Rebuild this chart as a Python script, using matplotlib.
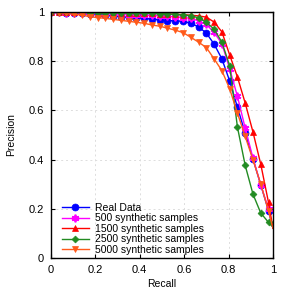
import matplotlib
matplotlib.use("Agg")
import matplotlib.pyplot as plt

plt.rcParams['font.family'] = ['Liberation Sans', 'DejaVu Sans']
plt.rcParams['font.size'] = 8

# recall grid + end point at recall 1
recall = [0.0, 0.035, 0.07, 0.105, 0.14, 0.175, 0.21, 0.245, 0.28, 0.315,
          0.35, 0.385, 0.42, 0.455, 0.49, 0.525, 0.56, 0.595, 0.63, 0.665,
          0.70, 0.735, 0.77, 0.805, 0.84, 0.875, 0.91, 0.945, 0.98, 1.0]

real_data = [1.0, 0.999, 0.998, 0.997, 0.995, 0.993, 0.991, 0.988, 0.985, 0.982,
             0.979, 0.977, 0.975, 0.972, 0.969, 0.966, 0.965, 0.963, 0.955, 0.94,
             0.915, 0.87, 0.81, 0.72, 0.613, 0.507, 0.402, 0.297, 0.191, 0.12]
synth_500 = [1.0, 0.999, 0.998, 0.997, 0.996, 0.995, 0.994, 0.993, 0.992, 0.991,
             0.99, 0.989, 0.988, 0.987, 0.985, 0.983, 0.981, 0.978, 0.975, 0.965,
             0.95, 0.918, 0.872, 0.77, 0.657, 0.528, 0.406, 0.297, 0.198, 0.12]
synth_1500 = [1.0, 1.0, 1.0, 0.999, 0.999, 0.999, 0.998, 0.998, 0.998, 0.997,
              0.997, 0.996, 0.996, 0.995, 0.994, 0.993, 0.992, 0.99, 0.988, 0.985,
              0.98, 0.96, 0.92, 0.826, 0.736, 0.63, 0.512, 0.381, 0.225, 0.12]
synth_2500 = [1.0, 1.0, 0.999, 0.999, 0.999, 0.998, 0.998, 0.998, 0.997, 0.997,
              0.996, 0.996, 0.995, 0.995, 0.994, 0.993, 0.991, 0.988, 0.986, 0.977,
              0.959, 0.931, 0.878, 0.782, 0.532, 0.376, 0.259, 0.182, 0.144, 0.125]
synth_5000 = [1.0, 0.998, 0.995, 0.992, 0.988, 0.982, 0.978, 0.975, 0.971, 0.967,
              0.963, 0.959, 0.955, 0.948, 0.943, 0.935, 0.927, 0.917, 0.898, 0.878,
              0.856, 0.81, 0.762, 0.688, 0.589, 0.494, 0.399, 0.30, 0.19, 0.12]

labels = ["Real Data", "500 synthetic samples", "1500 synthetic samples",
          "2500 synthetic samples", "5000 synthetic samples"]
ticks = [0, 0.2, 0.4, 0.6, 0.8, 1]
tick_labels = ["0", "0.2", "0.4", "0.6", "0.8", "1"]

fig = plt.figure(figsize=(2.91, 2.91), dpi=100)
ax = fig.add_axes([0.175, 0.1144, 0.763, 0.8436])

series = [real_data, synth_500, synth_1500, synth_2500, synth_5000]
colors = ["#0000ff", "#ff00ff", "#ff0000", "#228b22", "#ff5a1a"]
markers = ["o", (6, 2, 0), "^", "D", "v"]
msizes = [5, 5.5, 4.5, 3.5, 4.5]

for y, c, m, ms, lab in zip(series, colors, markers, msizes, labels):
    ax.plot(recall, y, color=c, marker=m, markersize=ms,
            markeredgewidth=1.3 if m == (6, 2, 0) else 0.5,
            linewidth=1, label=lab, markevery=slice(0, len(recall) - 1))

ax.set_xlim(0, 1)
ax.set_ylim(0, 1)
ax.set_xticks(ticks)
ax.set_xticklabels(tick_labels)
ax.set_yticks(ticks)
ax.set_yticklabels(tick_labels)
ax.tick_params(direction="in", top=True, right=True, length=3, width=0.8, pad=5)
ax.grid(True, color="#dddddd", linestyle=(0, (2, 3)), linewidth=0.7)
for s in ax.spines.values():
    s.set_linewidth(1.0)

ax.set_xlabel("Recall", fontsize=7.5, labelpad=3)
ax.set_ylabel("Precision", fontsize=7.5, labelpad=9)

ax.legend(loc="lower left", bbox_to_anchor=(0.03, -0.005), frameon=False,
          fontsize=7.5, handlelength=2.6, handletextpad=0.6, labelspacing=0.05,
          borderaxespad=0)

fig.savefig("out.png", dpi=100)
